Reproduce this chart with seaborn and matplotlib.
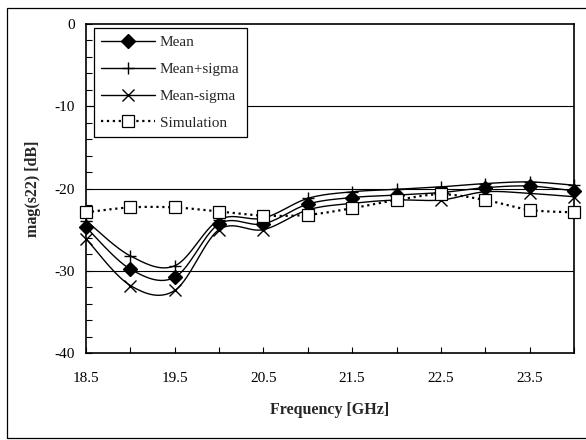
import numpy as np
import pandas as pd
import matplotlib
matplotlib.use('Agg')
import matplotlib.pyplot as plt
from matplotlib.lines import Line2D
from matplotlib.patches import Rectangle
from matplotlib.ticker import MultipleLocator
import seaborn as sns

# ── data ───────────────────────────────────────────────────────────────────
freq = [18.5, 19.0, 19.5, 20.0, 20.5, 21.0, 21.5, 22.0, 22.5, 23.0, 23.5, 24.0]
mean = [-24.7, -29.8, -30.8, -24.3, -24.3, -21.9, -21.1, -20.8, -20.5, -19.9, -19.7, -20.3]
mean_plus = [-23.9, -28.2, -29.4, -23.8, -23.6, -21.2, -20.4, -20.1, -19.8, -19.4, -19.2, -19.6]
mean_minus = [-26.1, -31.8, -32.4, -25.0, -25.0, -22.6, -21.8, -21.4, -21.4, -20.4, -20.6, -21.0]
simulation = [-22.9, -22.3, -22.3, -22.8, -23.3, -23.2, -22.4, -21.4, -20.7, -21.4, -22.6, -22.9]
x_ticks = [18.5, 19.5, 20.5, 21.5, 22.5, 23.5]


def smooth(x, y, n=30):
    # spreadsheet-style smoothed line: cubic Bezier through every point
    x = np.asarray(x, float); y = np.asarray(y, float)
    P = np.column_stack([x, y])
    Pe = np.vstack([P[0], P, P[-1]])
    out = []
    t = np.linspace(0, 1, n)[:, None]
    for i in range(len(P) - 1):
        p0, p3 = Pe[i + 1], Pe[i + 2]
        c1 = p0 + (Pe[i + 2] - Pe[i]) / 6
        c2 = p3 - (Pe[i + 3] - Pe[i + 1]) / 6
        seg = ((1 - t) ** 3) * p0 + 3 * ((1 - t) ** 2) * t * c1 + 3 * (1 - t) * t ** 2 * c2 + t ** 3 * p3
        out.append(seg if i == 0 else seg[1:])
    s = np.vstack(out)
    return s[:, 0], s[:, 1]


sns.set_style('ticks')
plt.rcParams['font.family'] = ['Liberation Serif', 'DejaVu Serif']
plt.rcParams['font.size'] = 11
plt.rcParams['axes.unicode_minus'] = False

fig = plt.figure(figsize=(5.86, 4.40), dpi=100)
fig.patch.set_facecolor('white')
fig.patches.append(Rectangle((7 / 586, 2 / 440), 1.2, 430 / 440,
                             transform=fig.transFigure, fill=False, ec='black', lw=0.9))
ax = fig.add_axes([86 / 586, 1 - 353 / 440, (574 - 86) / 586, (353 - 24) / 440])

series = [
    ('Mean', mean, dict(marker='D', ms=7, mfc='black', mec='black'), '-', 1.0),
    ('Mean+sigma', mean_plus, dict(marker='+', ms=9, mec='black', mew=1.0), '-', 1.0),
    ('Mean-sigma', mean_minus, dict(marker='x', ms=8, mec='black', mew=1.0), '-', 1.0),
    ('Simulation', simulation, dict(marker='s', ms=8, mfc='white', mec='black', mew=0.9), ':', 1.6),
]

handles = []
for z, (name, vals, mk, ls, lw) in enumerate(series):
    sx, sy = smooth(freq, vals)
    curve = pd.DataFrame({'f': sx, 'v': sy})
    sns.lineplot(data=curve, x='f', y='v', ax=ax, color='black', lw=lw, ls=ls,
                 sort=False, estimator=None, zorder=3 + z)
    ax.plot(freq, vals, ls='none', zorder=3.5 + z, clip_on=False, **mk)
    handles.append(Line2D([], [], color='black', lw=lw, ls=ls, **mk))

for g in (-10, -20, -30):
    ax.axhline(g, color='black', lw=0.8, zorder=1)

ax.set_xlim(18.5, 24.0)
ax.set_ylim(-40, 0)
ax.xaxis.set_minor_locator(MultipleLocator(0.5))
ax.set_xticks(x_ticks)
ax.yaxis.set_major_locator(MultipleLocator(10))
ax.yaxis.set_minor_locator(MultipleLocator(2))
ax.tick_params(which='both', direction='in', length=4, width=0.8, color='black',
               labelsize=11, labelcolor='black')
ax.tick_params(axis='x', which='both', pad=14)
ax.tick_params(axis='y', which='both', pad=8)
for sp in ax.spines.values():
    sp.set_visible(True)
    sp.set_color('black')
    sp.set_linewidth(1.2)

ax.set_xlabel('Frequency [GHz]', fontsize=11.5, fontweight='bold', labelpad=12)
ax.set_ylabel('mag(s22) [dB]', fontsize=11.5, fontweight='bold', labelpad=10)

leg = ax.legend(handles, [s[0] for s in series], loc='upper left',
                bbox_to_anchor=(0.016, 0.988), borderaxespad=0, fancybox=False,
                framealpha=1, edgecolor='black', handlelength=3.5, numpoints=1,
                labelspacing=0.86, handletextpad=0.3, borderpad=0.5, fontsize=11)
leg.get_frame().set_linewidth(0.9)
leg.set_zorder(10)

fig.savefig('out.png', dpi=100, facecolor='white')
